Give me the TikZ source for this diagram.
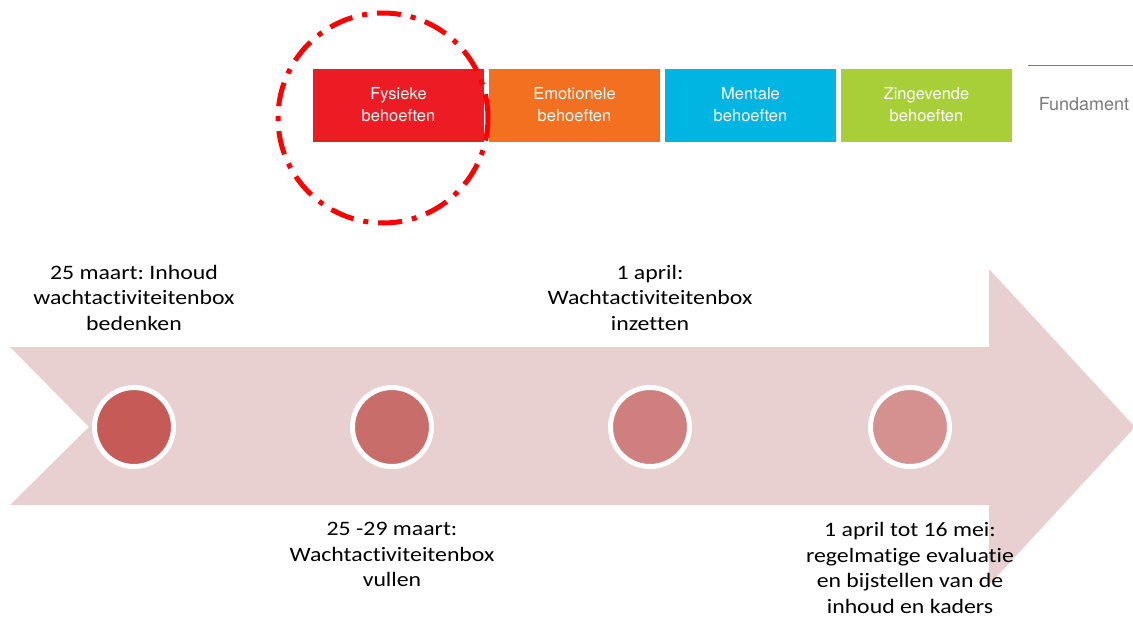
\documentclass[tikz,border=0pt]{standalone}
\usepackage{fontspec}
\setmainfont{Carlito}[Ligatures=NoCommon, FakeStretch=1.16]
\newfontfamily\boxfont{TeX Gyre Heros}
\usepackage{tikz}
\usetikzlibrary{positioning}
\frenchspacing
\definecolor{needred}{HTML}{ED1C24}
\definecolor{needorange}{HTML}{F37021}
\definecolor{needblue}{HTML}{00B5E2}
\definecolor{needgreen}{HTML}{A8CF38}
\definecolor{arrowpink}{HTML}{E8D0D1}
\definecolor{dotA}{HTML}{C55A57}
\definecolor{dotB}{HTML}{C86D6A}
\definecolor{dotC}{HTML}{CE7F7E}
\definecolor{dotD}{HTML}{D49190}
\definecolor{fundgray}{HTML}{7A7A7A}

\begin{document}
\begin{tikzpicture}[x=1pt,y=-1pt,
  needbox/.style={minimum width=171pt, minimum height=73pt, inner sep=0pt, align=center,
    text=white, font=\boxfont\fontsize{16.5}{22}\selectfont},
  milestone/.style={circle, minimum size=79pt, inner sep=0pt, draw=white, line width=5pt},
  datetext/.style={align=center, font=\fontsize{20.5}{25.5}\selectfont}]
\useasboundingbox (0,0) rectangle (1133,619);

% timeline arrow
\fill[arrowpink] (10,347) -- (989,347) -- (989,269) -- (1135,427) -- (989,585)
  -- (989,505) -- (10,505) -- (89,427) -- cycle;

% behoeften
\foreach \name/\col/\txt [count=\i from 0] in {fysiek/needred/Fysieke,emotie/needorange/Emotionele,mentaal/needblue/Mentale,zin/needgreen/Zingevende}
	\node[needbox, fill=\col] (\name) at (398.5+176*\i,105) {\txt\\behoeften};

\node[text=fundgray, font=\boxfont\fontsize{18}{22}\selectfont] (fund) at (1084,104) {Fundament};
\draw[fundgray, line width=0.8pt] (1028,65) -- (1133,65);

\draw[red, line width=5pt, dash pattern=on 24pt off 10pt on 5pt off 10pt] (383,118) circle (105pt);

% milestones
\foreach \x/\col [count=\i] in {134/dotA,392/dotB,650/dotC,910/dotD}
	\node[milestone, fill=\col] (m\i) at (\x,427) {};

\node[datetext, anchor=south] (t1) at (134,334) {25 maart: Inhoud\\wachtactiviteitenbox\\bedenken};
\node[datetext, anchor=north] (t2) at (392,519) {25 -29 maart:\\Wachtactiviteitenbox\\vullen};
\node[datetext, anchor=south] (t3) at (650,334) {1 april:\\Wachtactiviteitenbox\\inzetten};
\node[datetext, anchor=north] (t4) at (910,519) {1 april tot 16 mei:\\regelmatige evaluatie\\en bijstellen van de\\inhoud en kaders};
\end{tikzpicture}
\end{document}
